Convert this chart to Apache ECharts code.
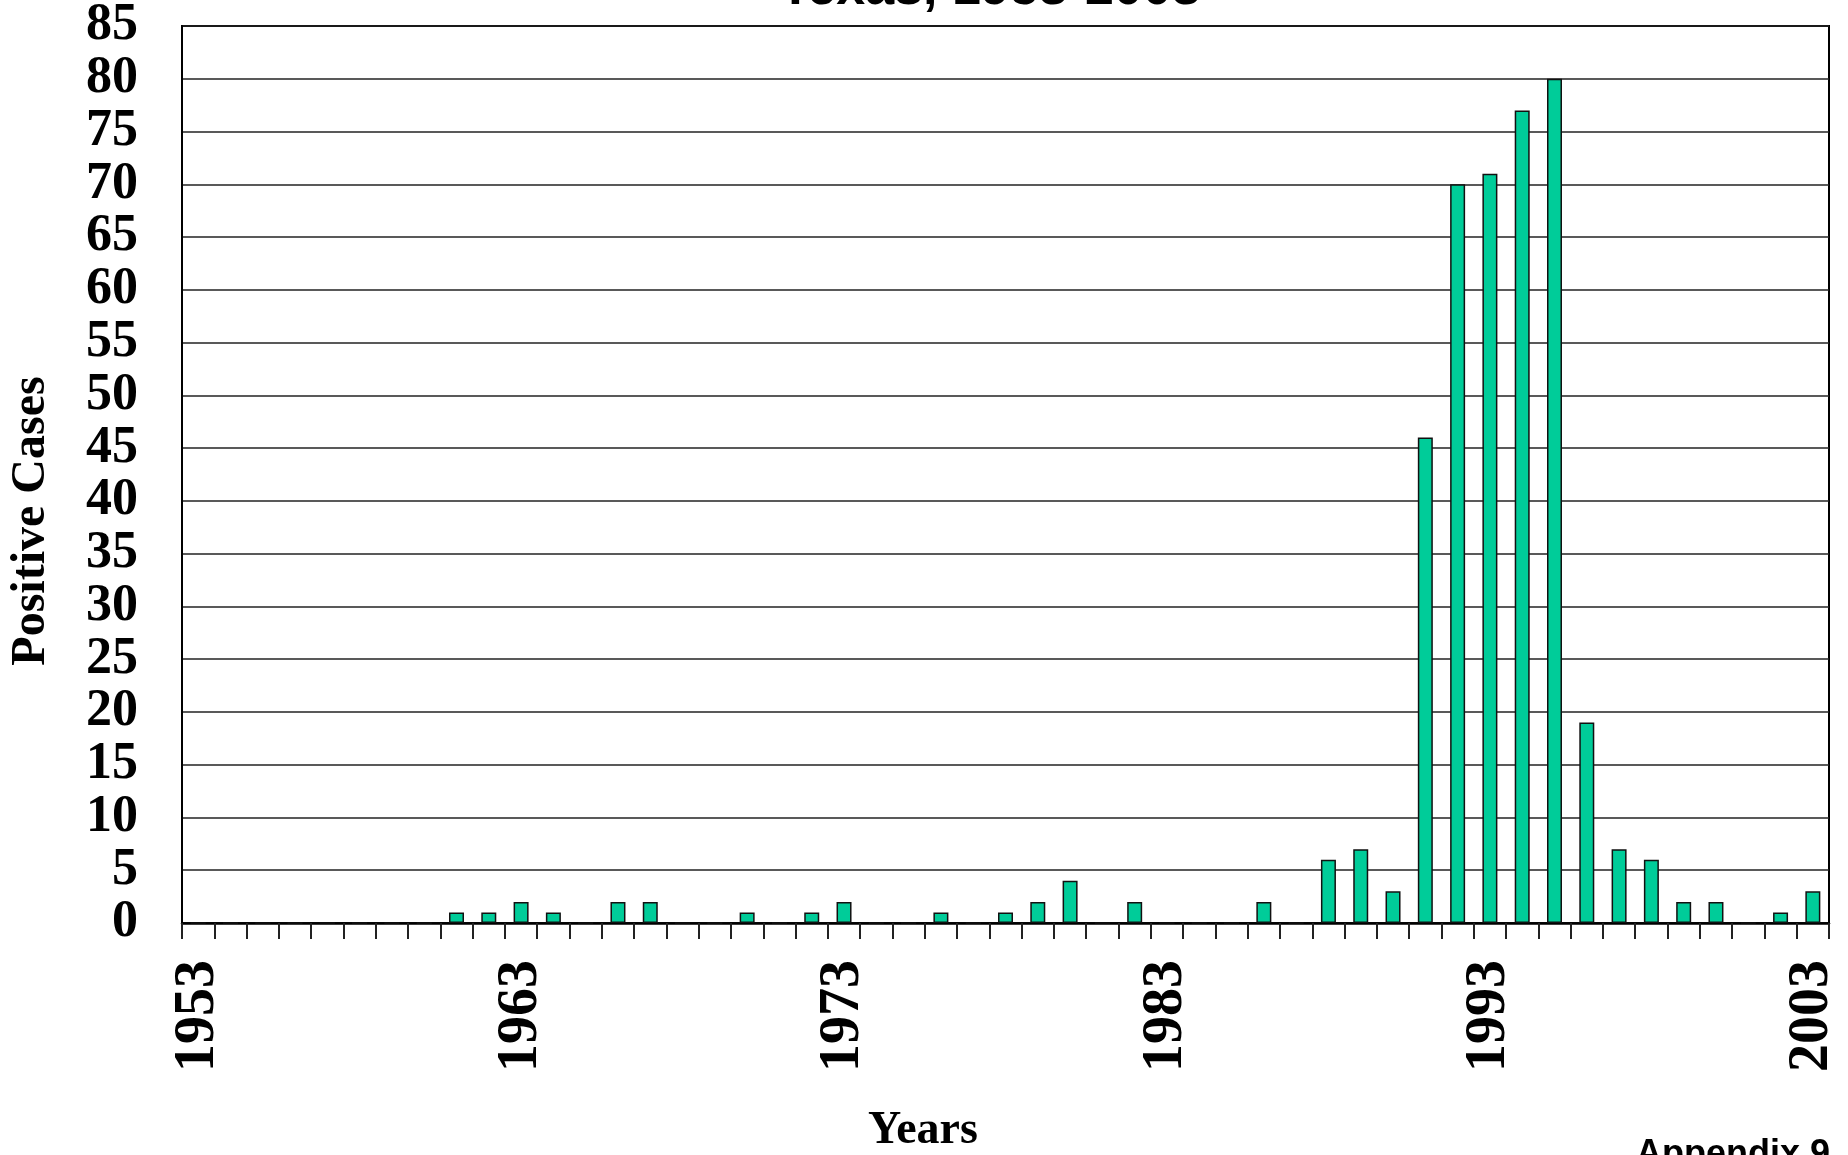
<!DOCTYPE html>
<html>
<head>
<meta charset="utf-8">
<script src="https://cdn.jsdelivr.net/npm/echarts@6/dist/echarts.min.js"></script>
<style>
  html, body { margin: 0; padding: 0; background: #fff; }
  #chart { width: 1848px; height: 1155px; }
</style>
</head>
<body>
<div id="chart"></div>
<script>
// years 1953..2003
const years = [];
for (let y = 1953; y <= 2003; y++) years.push(String(y));

const positiveCases = [
  0, 0, 0, 0, 0, 0, 0, 0, 1, 1,      // 1953-1962
  2, 1, 0, 2, 2, 0, 0, 1, 0, 1,      // 1963-1972
  2, 0, 0, 1, 0, 1, 2, 4, 0, 2,      // 1973-1982
  0, 0, 0, 2, 0, 6, 7, 3, 46, 70,    // 1983-1992
  71, 77, 80, 19, 7, 6, 2, 2, 0, 1,  // 1993-2002
  3                                  // 2003
];

const yMax = 85;
const yStep = 5;

const serif = '"Liberation Serif", "Times New Roman", serif';
const sans = '"Liberation Sans", Arial, sans-serif';

const chart = echarts.init(document.getElementById('chart'));
const option = {
  animation: false,
  backgroundColor: '#ffffff',
  grid: {
    left: 182,
    right: 19,
    top: 22,
    bottom: 232,
    show: true,
    borderColor: '#000',
    borderWidth: 2,
  },
  xAxis: {
    type: 'category',
    data: years,
    boundaryGap: true,
    axisLine: { lineStyle: { color: '#000', width: 2.5 } },
    axisTick: {
      show: true,
      interval: 0,
      length: 16,
      lineStyle: { color: '#222', width: 2 },
    },
    axisLabel: {
      interval: 9,
      rotate: 90,
      margin: 37,
      color: '#000',
      fontFamily: serif,
      fontWeight: 'bold',
      fontSize: 56,
    },
  },
  yAxis: {
    type: 'value',
    min: 0,
    max: yMax,
    interval: yStep,
    axisLine: { show: true, lineStyle: { color: '#000', width: 2 } },
    axisTick: { show: false },
    splitLine: { lineStyle: { color: '#222', width: 1.5 } },
    axisLabel: {
      margin: 44,
      color: '#000',
      fontFamily: serif,
      fontWeight: 'bold',
      fontSize: 52,
    },
  },
  graphic: [
    {
      type: 'text',
      x: 990,
      y: -10,
      style: {
        text: 'Texas, 1953-2003',
        font: 'bold 52px ' + sans,
        fill: '#000',
        align: 'center',
        verticalAlign: 'middle',
      },
    },
    {
      type: 'text',
      x: 32,
      y: 521,
      rotation: Math.PI / 2,
      style: {
        text: 'Positive Cases',
        font: 'bold 48px ' + serif,
        fill: '#000',
        align: 'center',
        verticalAlign: 'middle',
      },
    },
    {
      type: 'text',
      x: 923,
      y: 1131,
      style: {
        text: 'Years',
        font: 'bold 46px ' + serif,
        fill: '#000',
        align: 'center',
        verticalAlign: 'middle',
      },
    },
    {
      type: 'text',
      x: 1830,
      y: 1137,
      style: {
        text: 'Appendix 9',
        font: 'bold 36px ' + sans,
        fill: '#000',
        align: 'right',
        verticalAlign: 'top',
      },
    },
  ],
  series: [
    {
      name: 'Positive Cases',
      type: 'bar',
      data: positiveCases,
      barWidth: 15,
      itemStyle: {
        color: '#00CC99',
        borderColor: '#111',
        borderWidth: 1.5,
      },
    },
  ],
};
chart.setOption(option);
</script>
</body>
</html>
